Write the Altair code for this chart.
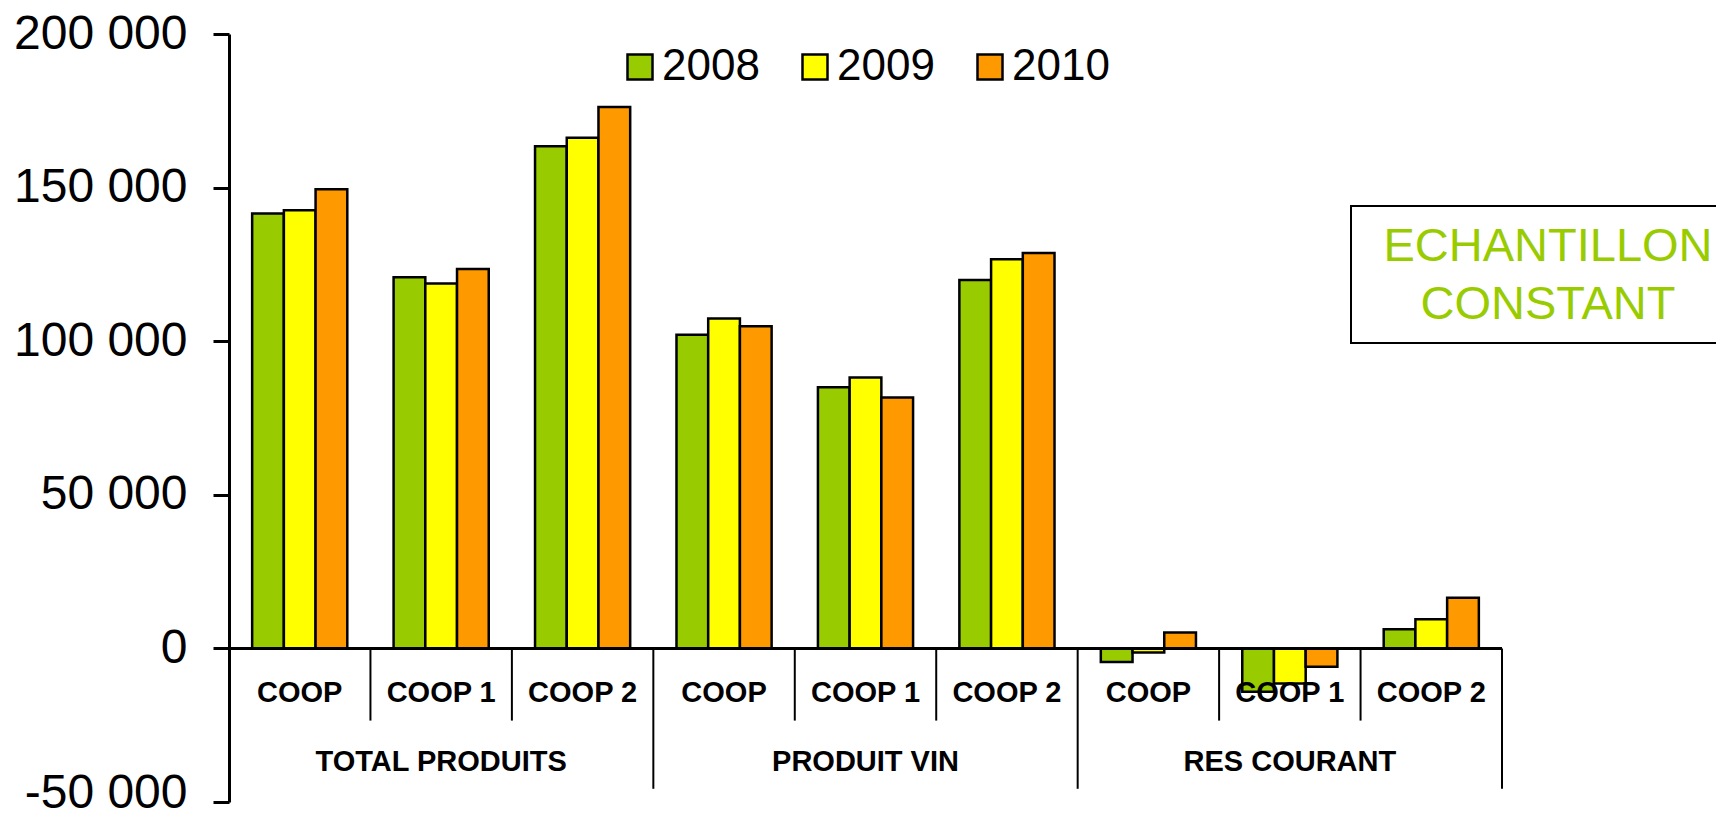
import altair as alt
import pandas as pd

groups = ["TOTAL PRODUITS", "PRODUIT VIN", "RES COURANT"]
subs = ["COOP", "COOP 1", "COOP 2"]
years = ["2008", "2009", "2010"]
v2008 = [141600, 120800, 163500, 102100, 85000, 119900, -4400, -14100, 6200]
v2009 = [142600, 118800, 166200, 107400, 88200, 126700, -1300, -11400, 9500]
v2010 = [149500, 123500, 176200, 104900, 81700, 128700, 5200, -6000, 16500]
colors = ["#99CC00", "#FFFF00", "#FF9900"]
y_ticks = [-50000, 0, 50000, 100000, 150000, 200000]
box_lines = ["ECHANTILLON", "CONSTANT"]

keys = [f"{g}|{s}" for g in groups for s in subs]
rows = []
for i, k in enumerate(keys):
    g, s = k.split("|")
    for yr, vals in zip(years, [v2008, v2009, v2010]):
        rows.append({"key": k, "group": g, "sub": s, "year": yr, "value": vals[i]})
bars_df = pd.DataFrame(rows)
cat_df = pd.DataFrame({
    "key": keys,
    "group": [k.split("|")[0] for k in keys],
    "sub": [k.split("|")[1] for k in keys],
    "pos": [i % 3 for i in range(len(keys))],
})
one = pd.DataFrame({"a": [0]})

W, H = 1273, 768
FONT = "Liberation Sans"
xscale = alt.Scale(domain=keys, paddingInner=0, paddingOuter=0)
yscale = alt.Scale(domain=[-50000, 200000], nice=False)

label_expr = "replace(replace(format(datum.value, ','), ',', ' '), '\u2212', '-')"

bars = alt.Chart(bars_df).mark_bar(stroke="black", strokeWidth=2.5, strokeJoin="miter").encode(
    x=alt.X("key:N", scale=xscale, axis=None, sort=keys),
    xOffset=alt.XOffset("year:N", scale=alt.Scale(domain=years, paddingInner=0, paddingOuter=0.73)),
    y=alt.Y("value:Q", scale=yscale, axis=alt.Axis(
        values=y_ticks, title=None, grid=False, domainColor="black", domainWidth=3,
        tickColor="black", tickWidth=3, tickSize=16, labelFontSize=48, labelFont=FONT,
        labelColor="black", labelPadding=26, labelExpr=label_expr, labelFlush=False,
        labelOverlap=False,
        labelOffset={"condition": {"test": "datum.value === -50000", "value": -9}, "value": 0})),
    y2=alt.datum(0),
    color=alt.Color("year:N", scale=alt.Scale(domain=years, range=colors), legend=alt.Legend(
        orient="none", legendX=389, legendY=11, direction="horizontal", title=None,
        symbolType="square", symbolSize=625, symbolStrokeColor="black", symbolStrokeWidth=2.5,
        symbolOpacity=1, labelFontSize=44, labelFont=FONT, labelColor="black", labelOffset=0,
        columnPadding=33, padding=0, labelLimit=300)),
)

sub_sep = alt.Chart(cat_df).transform_filter("datum.pos > 0").mark_rule(color="black", strokeWidth=2).encode(
    x=alt.X("key:N", scale=xscale, axis=None, bandPosition=0),
    y=alt.datum(0), y2=alt.datum(-23500),
)
grp_sep = alt.Chart(cat_df).transform_filter("datum.pos == 2").mark_rule(color="black", strokeWidth=2).encode(
    x=alt.X("key:N", scale=xscale, axis=None, bandPosition=1),
    y=alt.datum(0), y2=alt.datum(-45700),
)
zero_line = alt.Chart(one).mark_rule(color="black", strokeWidth=3).encode(y=alt.datum(0))

sub_labels = alt.Chart(cat_df).mark_text(font=FONT, fontWeight="bold", fontSize=29, color="black", baseline="middle").encode(
    x=alt.X("key:N", scale=xscale, axis=None),
    y=alt.datum(-14500),
    text="sub:N",
)
grp_labels = alt.Chart(cat_df).transform_filter("datum.pos == 1").mark_text(font=FONT, fontWeight="bold", fontSize=29, color="black", baseline="middle").encode(
    x=alt.X("key:N", scale=xscale, axis=None),
    y=alt.datum(-36900),
    text="group:N",
)

box = alt.Chart(one).mark_rect(fill="white", stroke="black", strokeWidth=2).encode(
    x=alt.value(1122), x2=alt.value(1530), y=alt.value(172), y2=alt.value(309),
)
t1 = alt.Chart(one).mark_text(font=FONT, fontSize=47, color="#99CC00", baseline="middle").encode(
    x=alt.value(1319), y=alt.value(213), text=alt.value(box_lines[0]),
)
t2 = alt.Chart(one).mark_text(font=FONT, fontSize=47, color="#99CC00", baseline="middle").encode(
    x=alt.value(1319), y=alt.value(271), text=alt.value(box_lines[1]),
)

chart = alt.layer(bars, sub_sep, grp_sep, zero_line, sub_labels, grp_labels, box, t1, t2).properties(
    width=W, height=H,
    autosize=alt.AutoSizeParams(type="none"),
    padding={"left": 221, "top": 26, "right": 214, "bottom": 8},
).configure_view(strokeWidth=0)

chart.save("out.html", embed_options={"renderer": "svg", "actions": False})
